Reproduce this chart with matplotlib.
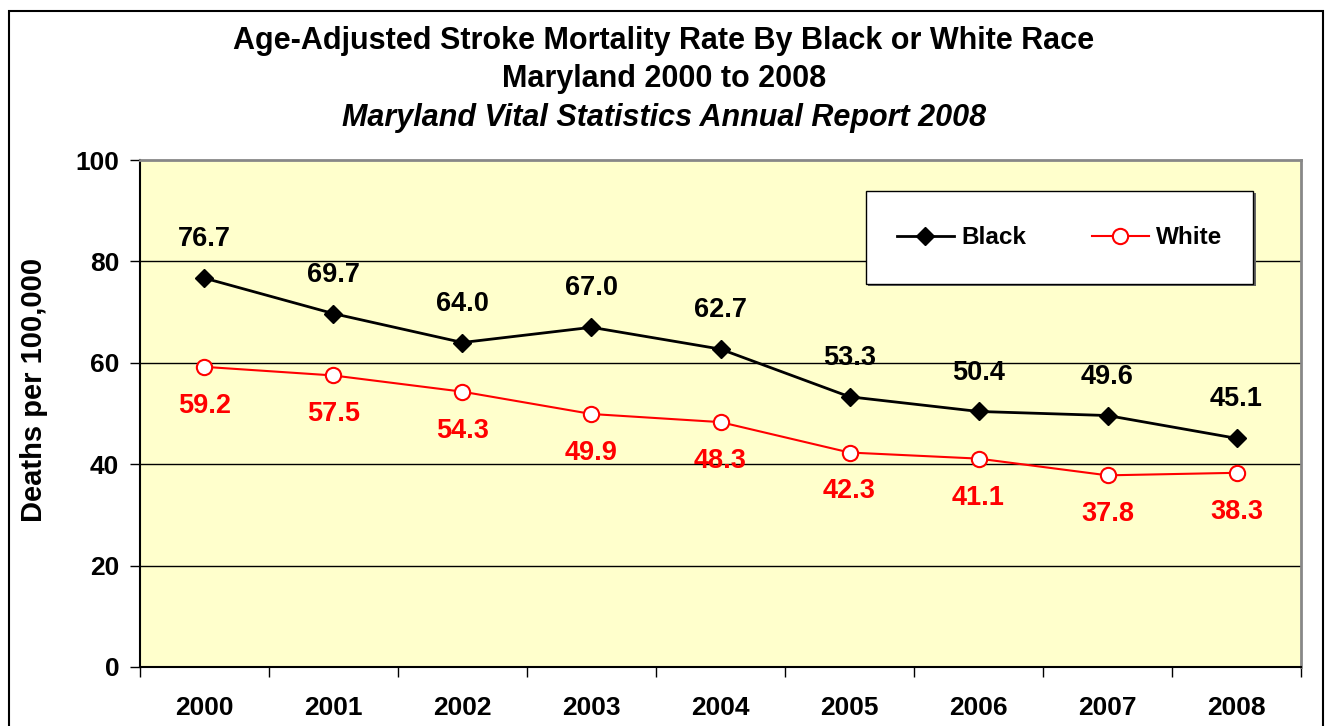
import matplotlib.pyplot as plt
from matplotlib.patches import Rectangle

plt.rcParams['font.family'] = ['Liberation Sans', 'DejaVu Sans']

years = ['2000', '2001', '2002', '2003', '2004', '2005', '2006', '2007', '2008']
black = [76.7, 69.7, 64.0, 67.0, 62.7, 53.3, 50.4, 49.6, 45.1]
white = [59.2, 57.5, 54.3, 49.9, 48.3, 42.3, 41.1, 37.8, 38.3]
yticks = [0, 20, 40, 60, 80, 100]

fig = plt.figure(figsize=(13.28, 7.26), dpi=100)

# outer chart frame
fig.patches.append(Rectangle((0.0068, -0.02), 0.9895, 1.005, transform=fig.transFigure,
                             fill=False, edgecolor='black', linewidth=1.5))

ax = fig.add_axes([0.1054, 0.0813, 0.8743, 0.6983])
ax.set_facecolor('#FFFFCC')
x = list(range(len(years)))

ax.plot(x, black, color='black', linewidth=2, marker='D', markersize=9,
        markerfacecolor='black', label='Black', zorder=3)
ax.plot(x, white, color='red', linewidth=1.5, marker='o', markersize=11,
        markerfacecolor='white', markeredgecolor='red', markeredgewidth=1.5,
        label='White', zorder=3)

for xi, v in zip(x, black):
    ax.annotate(f'{v:.1f}', (xi, v), xytext=(0, 28), textcoords='offset points',
                ha='center', va='center', fontsize=19.5, fontweight='bold', color='black')
for xi, v in zip(x, white):
    ax.annotate(f'{v:.1f}', (xi, v), xytext=(0, -28), textcoords='offset points',
                ha='center', va='center', fontsize=19.5, fontweight='bold', color='red')

ax.set_xlim(-0.5, len(years) - 0.5)
ax.set_ylim(0, 100)
ax.set_yticks(yticks)
ax.set_yticklabels([str(t) for t in yticks], fontsize=19, fontweight='bold')
ax.set_xticks(x)
ax.set_xticklabels(years, fontsize=19, fontweight='bold')
ax.set_xticks([i - 0.5 for i in range(len(years) + 1)], minor=True)
ax.tick_params(axis='x', which='major', length=0, pad=21)
ax.tick_params(axis='x', which='minor', length=7, width=1, direction='out')
ax.tick_params(axis='y', length=7, width=1, direction='out', pad=8)

for v in yticks[1:-1]:
    ax.axhline(v, color='black', linewidth=1, zorder=1)

ax.spines['top'].set_color('#888888')
ax.spines['right'].set_color('#888888')
ax.spines['top'].set_linewidth(2)
ax.spines['right'].set_linewidth(2)
ax.spines['left'].set_linewidth(1.5)
ax.spines['bottom'].set_linewidth(1.5)

ax.set_ylabel('Deaths per 100,000', fontsize=21, fontweight='bold')
ax.yaxis.set_label_coords(-0.079, 0.547)

# legend box
bx, by, bw, bh = 0.625, 0.755, 0.334, 0.184
ax.add_patch(Rectangle((bx + 0.002, by - 0.004), bw, bh, transform=ax.transAxes,
                       facecolor='#666666', edgecolor='none', zorder=4))
ax.add_patch(Rectangle((bx, by), bw, bh, transform=ax.transAxes,
                       facecolor='white', edgecolor='black', linewidth=1, zorder=5))
leg = ax.legend(loc='center', bbox_to_anchor=(bx + bw / 2, by + bh / 2), ncol=2,
                frameon=False, handlelength=2.35, columnspacing=2.7,
                handletextpad=0.3, prop={'weight': 'bold', 'size': 17.5})
leg.set_zorder(6)

fig.text(0.5, 0.943, 'Age-Adjusted Stroke Mortality Rate By Black or White Race',
         ha='center', va='center', fontsize=22, fontweight='bold')
fig.text(0.5, 0.891, 'Maryland 2000 to 2008',
         ha='center', va='center', fontsize=22, fontweight='bold')
fig.text(0.5, 0.838, 'Maryland Vital Statistics Annual Report 2008',
         ha='center', va='center', fontsize=22, fontweight='bold', fontstyle='italic')

fig.savefig('out.png', dpi=100)
